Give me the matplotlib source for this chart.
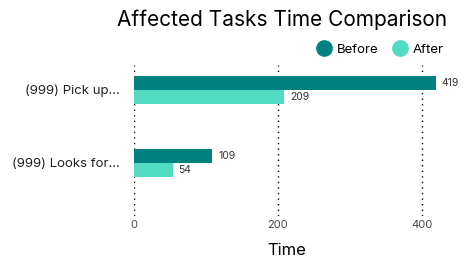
import matplotlib.pyplot as plt
import numpy as np
from matplotlib.lines import Line2D

plt.rcParams['font.family'] = ['Inter', 'DejaVu Sans']

tasks = ["(999) Pick up...", "(999) Looks for..."]
before = [419, 109]
after = [209, 54]
ticks = [0, 200, 400]

colBefore = "#00807F"
colAfter = "#50DBC2"

fig = plt.figure(figsize=(4.67, 2.70), dpi=100)
ax = fig.add_axes([0.287, 0.2, 0.655, 0.56])

y = np.arange(len(tasks))
h = 0.19
ax.barh(y - h / 2, before, height=h, color=colBefore, label="Before")
ax.barh(y + h / 2, after, height=h, color=colAfter, label="After")

#value labels at the end of each bar
for i in range(len(tasks)):
    ax.text(before[i] + 8, y[i] - h / 2, str(before[i]), va="center", fontsize=7.5, color="#333333")
    ax.text(after[i] + 8, y[i] + h / 2, str(after[i]), va="center", fontsize=7.5, color="#333333")

ax.set_ylim(1.73, -0.34)
ax.set_xlim(0, 425)
ax.set_yticks(y)
ax.set_yticklabels(tasks, fontsize=9.5, color="#222222")
ax.set_xticks(ticks)
ax.set_xticklabels([str(t) for t in ticks], fontsize=8, color="#444444")
ax.tick_params(axis="y", length=0, pad=10)
ax.tick_params(axis="x", length=0, pad=3)
ax.grid(True, axis="x", color="black", linestyle=(0, (1, 3)), linewidth=1)
ax.set_axisbelow(True)
for s in ax.spines.values():
    s.set_visible(False)

ax.set_xlabel("Time", fontsize=12, labelpad=9)
fig.text(0.605, 0.925, "Affected Tasks Time Comparison", fontsize=15, ha="center", va="center")

handles = [Line2D([], [], marker="o", linestyle="", markersize=11, color=colBefore),
           Line2D([], [], marker="o", linestyle="", markersize=11, color=colAfter)]
fig.legend(handles, ["Before", "After"], loc="center right", bbox_to_anchor=(0.975, 0.815), ncol=2,
           frameon=False, fontsize=9.5, handlelength=0.9, columnspacing=1.2, handletextpad=0.5)

fig.savefig("out.png")
